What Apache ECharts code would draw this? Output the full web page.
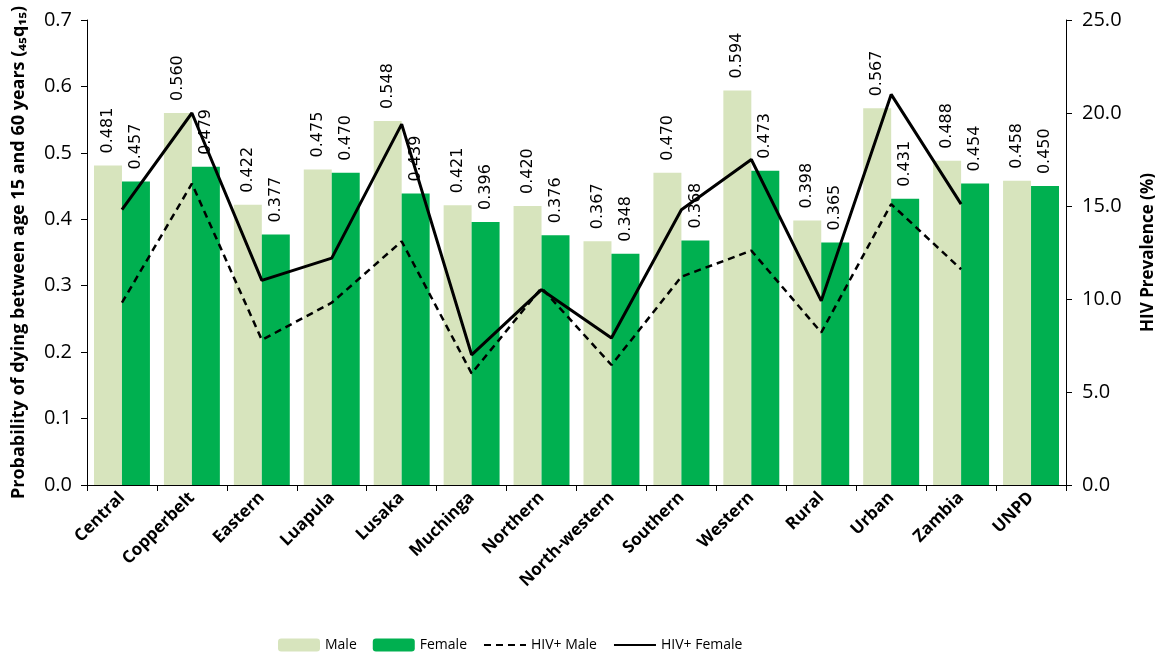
<!DOCTYPE html>
<html><head><meta charset="utf-8">
<script src="https://cdn.jsdelivr.net/npm/echarts@6/dist/echarts.min.js"></script>
<style>html,body{margin:0;padding:0;background:#fff}#c{width:1155px;height:653px}</style>
</head><body><div id="c"></div>
<script>
const categories = ['Central','Copperbelt','Eastern','Luapula','Lusaka','Muchinga','Northern','North-western','Southern','Western','Rural','Urban','Zambia','UNPD'];
const maleValues = [0.481,0.560,0.422,0.475,0.548,0.421,0.420,0.367,0.470,0.594,0.398,0.567,0.488,0.458];
const femaleValues = [0.457,0.479,0.377,0.470,0.439,0.396,0.376,0.348,0.368,0.473,0.365,0.431,0.454,0.450];
const hivMale = [9.8,16.2,7.8,9.8,13.1,6.0,10.6,6.45,11.2,12.6,8.2,15.1,11.6,null];
const hivFemale = [14.8,20.0,11.0,12.2,19.4,7.0,10.5,7.9,14.8,17.5,9.9,21.0,15.1,null];
const leftTicks = {min:0,max:0.7,interval:0.1};
const rightTicks = {min:0,max:25,interval:5};

const chart = echarts.init(document.getElementById('c'), null, {renderer:'canvas'});
const axisFont = {fontFamily:'Open Sans', fontSize:20, color:'#000'};
const barLabel = {
  show:true, position:'top', rotate:90, align:'left', verticalAlign:'middle', distance:12,
  fontFamily:'DejaVu Sans', fontSize:16, color:'#000',
  formatter: p => p.value.toFixed(3)
};
const hidden = {color:'rgba(0,0,0,0)', borderColor:'rgba(0,0,0,0)', borderWidth:0};
chart.setOption({
  animation:false,
  grid:{left:87, right:89, top:20, bottom:168, containLabel:false, outerBoundsMode:'none'},
  legend:{
    top:633, left:273, itemWidth:42, itemHeight:13, itemGap:16,
    textStyle:{fontFamily:'Open Sans', fontSize:14, color:'#000'},
    data:['Male','Female',
      {name:'HIV+ Male', itemStyle:hidden},
      {name:'HIV+ Female', itemStyle:hidden}]
  },
  xAxis:{
    type:'category', data:categories,
    axisLine:{lineStyle:{color:'#000', width:1}},
    axisTick:{show:true, alignWithLabel:false, length:6, lineStyle:{color:'#000'}},
    axisLabel:{interval:0, rotate:45, fontFamily:'Open Sans', fontWeight:'bold', fontSize:17, color:'#000', margin:10}
  },
  yAxis:[{
    type:'value', min:leftTicks.min, max:leftTicks.max, interval:leftTicks.interval,
    name:'Probability of dying between age 15 and 60 years (\u2084\u2085q\u2081\u2085)',
    nameLocation:'middle', nameGap:59, nameRotate:90,
    nameTextStyle:{fontFamily:'Open Sans', fontWeight:'bold', fontSize:18, color:'#000'},
    axisLine:{show:true, lineStyle:{color:'#000'}},
    axisTick:{show:true, length:6, lineStyle:{color:'#000'}},
    splitLine:{show:false},
    axisLabel:Object.assign({formatter:v=>v.toFixed(1), margin:15}, axisFont)
  },{
    type:'value', position:'right', min:rightTicks.min, max:rightTicks.max, interval:rightTicks.interval,
    name:'HIV Prevalence (%)',
    nameLocation:'middle', nameGap:74, nameRotate:90,
    nameTextStyle:{fontFamily:'Open Sans', fontWeight:'bold', fontSize:17, color:'#000'},
    axisLine:{show:true, lineStyle:{color:'#000'}},
    axisTick:{show:true, length:6, lineStyle:{color:'#000'}},
    splitLine:{show:false},
    axisLabel:Object.assign({formatter:v=>v.toFixed(1), margin:16}, axisFont)
  }],
  series:[
    {name:'Male', type:'bar', data:maleValues, barGap:'0%', barCategoryGap:'20%',
     itemStyle:{color:'#d7e4bd'}, label:barLabel},
    {name:'Female', type:'bar', data:femaleValues, barGap:'0%', barCategoryGap:'20%',
     itemStyle:{color:'#00b050'}, label:barLabel},
    {name:'HIV+ Male', type:'line', yAxisIndex:1, data:hivMale, symbol:'none', showSymbol:false,
     lineStyle:{color:'#000', width:2.5, type:[7,5]}, itemStyle:{color:'#000'}},
    {name:'HIV+ Female', type:'line', yAxisIndex:1, data:hivFemale, symbol:'none', showSymbol:false,
     lineStyle:{color:'#000', width:3, type:'solid'}, itemStyle:{color:'#000'}}
  ]
});
</script></body></html>
